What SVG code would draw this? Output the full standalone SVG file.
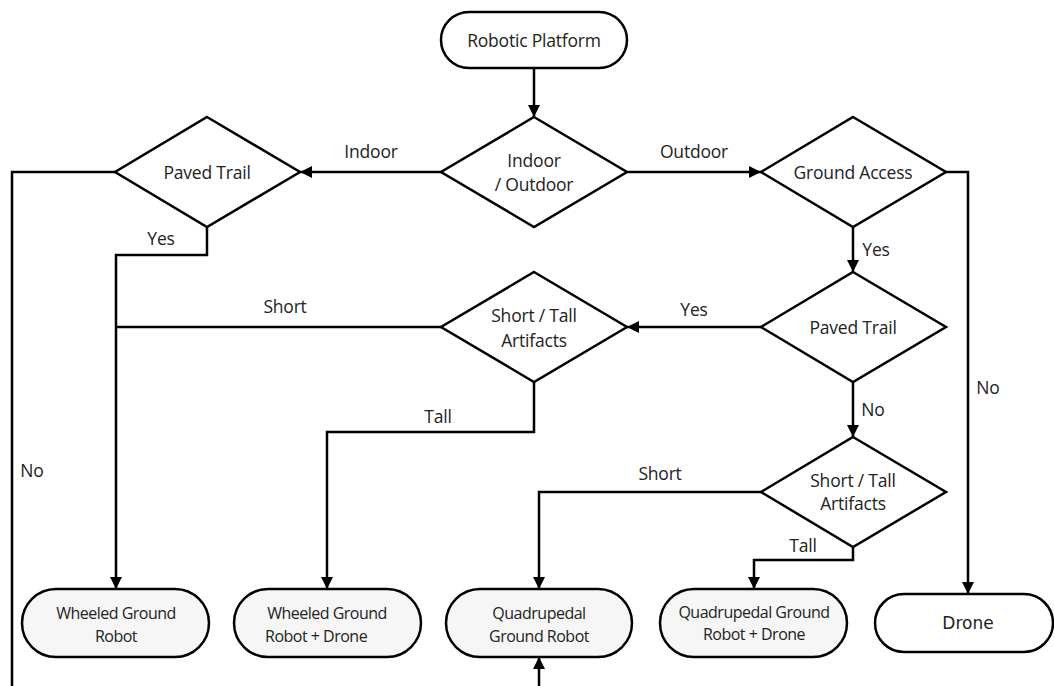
<svg xmlns="http://www.w3.org/2000/svg" width="1054" height="686" viewBox="0 0 1054 686">
<defs>
<marker id="arr" viewBox="0 0 12 12" refX="12" refY="6" markerWidth="12" markerHeight="12" markerUnits="userSpaceOnUse" orient="auto">
<path d="M0,0 L12,6 L0,12 Z" fill="#000"/>
</marker>
<style>
.shape{fill:#fff;stroke:#000;stroke-width:2.5}
.term{fill:#f6f6f6;stroke:#000;stroke-width:2.5}
.line{fill:none;stroke:#000;stroke-width:2.5}
.t{font-family:"Open Sans","Liberation Sans",sans-serif;font-size:17.5px;fill:#222;text-anchor:middle;dominant-baseline:central;letter-spacing:-0.2px}
.tn{font-family:"Open Sans","Liberation Sans",sans-serif;font-size:16px;fill:#222;text-anchor:middle;dominant-baseline:central;letter-spacing:-0.5px}
.td{font-family:"DejaVu Sans",sans-serif;font-size:17px;fill:#222;text-anchor:middle;dominant-baseline:central}
</style>
</defs>
<rect width="1054" height="686" fill="#fff"/>
<g id="connectors">
<path class="line" d="M534,68 V117" marker-end="url(#arr)"/>
<path class="line" d="M441,172 H300" marker-end="url(#arr)"/>
<path class="line" d="M627,172 H761" marker-end="url(#arr)"/>
<path class="line" d="M115,172 H12 V686"/>
<path class="line" d="M207,227 V255 H116 V589" marker-end="url(#arr)"/>
<path class="line" d="M441,327 H116"/>
<path class="line" d="M534,382 V432 H327 V589" marker-end="url(#arr)"/>
<path class="line" d="M946,172 H968 V594" marker-end="url(#arr)"/>
<path class="line" d="M853,227 V272" marker-end="url(#arr)"/>
<path class="line" d="M761,327 H627" marker-end="url(#arr)"/>
<path class="line" d="M853,382 V437" marker-end="url(#arr)"/>
<path class="line" d="M761,492 H539 V589" marker-end="url(#arr)"/>
<path class="line" d="M853,547 V560 H754 V589" marker-end="url(#arr)"/>
<path class="line" d="M539,686 V657" marker-end="url(#arr)"/>
<text class="t" x="371" y="151">Indoor</text>
<text class="t" x="694" y="151">Outdoor</text>
<text class="t" x="161" y="238">Yes</text>
<text class="t" x="285" y="306">Short</text>
<text class="t" x="694" y="309">Yes</text>
<text class="t" x="876" y="249">Yes</text>
<text class="t" x="438" y="416">Tall</text>
<text class="t" x="873" y="409">No</text>
<text class="t" x="988" y="387">No</text>
<text class="t" x="660" y="473">Short</text>
<text class="t" x="803" y="545">Tall</text>
<text class="t" x="32" y="470">No</text>
</g>
<g id="robotic-platform">
<rect class="shape" x="441" y="12" width="186" height="56" rx="28"/>
<text class="t" x="534" y="40">Robotic Platform</text>
</g>
<g id="indoor-outdoor">
<polygon class="shape" points="534,117 627,172 534,227 441,172"/>
<text class="t" x="534" y="160">Indoor</text>
<text class="t" x="534" y="184">/ Outdoor</text>
</g>
<g id="paved-trail-indoor">
<polygon class="shape" points="207,117 300,172 207,227 115,172"/>
<text class="t" x="207" y="172">Paved Trail</text>
</g>
<g id="ground-access">
<polygon class="shape" points="853,117 946,172 853,227 761,172"/>
<text class="t" x="853" y="172">Ground Access</text>
</g>
<g id="paved-trail-outdoor">
<polygon class="shape" points="853,272 946,327 853,382 761,327"/>
<text class="t" x="853" y="327">Paved Trail</text>
</g>
<g id="artifacts-1">
<polygon class="shape" points="534,272 627,327 534,382 441,327"/>
<text class="t" x="534" y="315">Short / Tall</text>
<text class="t" x="534" y="340">Artifacts</text>
</g>
<g id="artifacts-2">
<polygon class="shape" points="853,437 946,492 853,547 761,492"/>
<text class="t" x="853" y="480">Short / Tall</text>
<text class="t" x="853" y="503">Artifacts</text>
</g>
<g id="wheeled">
<rect class="term" x="22" y="589" width="187" height="68" rx="34"/>
<text class="tn" x="116" y="613">Wheeled Ground</text>
<text class="tn" x="116" y="636">Robot</text>
</g>
<g id="wheeled-drone">
<rect class="term" x="234" y="589" width="187" height="68" rx="34"/>
<text class="tn" x="327" y="613">Wheeled Ground</text>
<text class="tn" x="265" y="636" style="text-anchor:start">Robot + Drone</text>
</g>
<g id="quadrupedal">
<rect class="term" x="446" y="589" width="186" height="68" rx="34"/>
<text class="tn" x="539" y="613">Quadrupedal</text>
<text class="tn" x="539" y="636">Ground Robot</text>
</g>
<g id="quadrupedal-drone">
<rect class="term" x="660" y="589" width="187" height="68" rx="34"/>
<text class="tn" x="754" y="612">Quadrupedal Ground</text>
<text class="tn" x="754" y="634">Robot + Drone</text>
</g>
<g id="drone">
<rect class="shape" x="875" y="594" width="178" height="58" rx="29"/>
<text class="td" x="968" y="623">Drone</text>
</g>
</svg>
